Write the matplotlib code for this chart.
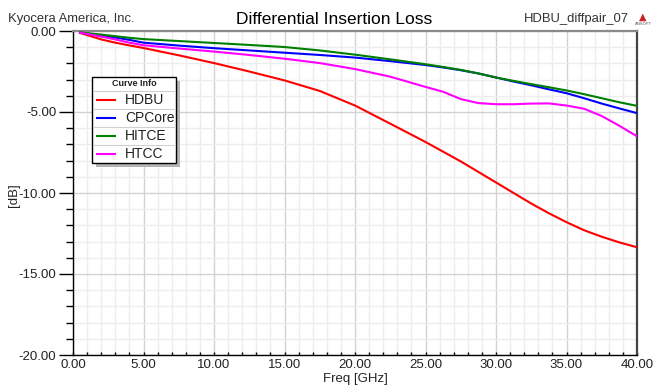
import matplotlib.pyplot as plt
from matplotlib.ticker import MultipleLocator, FormatStrFormatter
from matplotlib.patches import Rectangle

plt.rcParams['font.family'] = ['Liberation Sans', 'DejaVu Sans']

# ---- data ----
freq = [0.5, 1, 2, 3, 4, 5, 7.5, 10, 12.5, 15, 17.5, 20, 22.5, 25, 26.25,
        27.5, 28.75, 30, 31.25, 32.5, 33.75, 35, 36.25, 37.5, 38.75, 40]
hdbu = [-0.12, -0.25, -0.52, -0.72, -0.89, -1.05, -1.5, -1.98, -2.5, -3.05, -3.7,
        -4.6, -5.72, -6.85, -7.45, -8.05, -8.7, -9.35, -10.0, -10.65, -11.25,
        -11.8, -12.3, -12.7, -13.05, -13.35]
cpcore = [-0.1, -0.16, -0.28, -0.4, -0.55, -0.72, -0.9, -1.06, -1.2, -1.34, -1.48,
          -1.64, -1.86, -2.1, -2.25, -2.42, -2.62, -2.87, -3.12, -3.35, -3.6,
          -3.84, -4.15, -4.48, -4.78, -5.07]
hitce = [-0.08, -0.13, -0.22, -0.32, -0.42, -0.5, -0.62, -0.74, -0.86, -0.99, -1.2,
         -1.46, -1.75, -2.05, -2.22, -2.4, -2.62, -2.87, -3.08, -3.28, -3.47,
         -3.67, -3.9, -4.15, -4.4, -4.62]
htcc = [-0.1, -0.18, -0.35, -0.52, -0.72, -0.88, -1.08, -1.27, -1.48, -1.71, -1.98,
        -2.35, -2.82, -3.45, -3.75, -4.2, -4.45, -4.52, -4.52, -4.48, -4.47,
        -4.6, -4.8, -5.25, -5.85, -6.5]
names = ['HDBU', 'CPCore', 'HITCE', 'HTCC']
colors = ['#ff0000', '#0000ff', '#008000', '#ff00ff']

W, H = 654, 385
fig = plt.figure(figsize=(W / 100, H / 100), dpi=100)
ax = fig.add_axes([73 / W, 1 - 355 / H, (637 - 73) / W, (355 - 31) / H])

lines = []
for vals, name, c in zip([hdbu, cpcore, hitce, htcc], names, colors):
    ln, = ax.plot(freq, vals, color=c, lw=1.5, label=name, zorder=3)
    lines.append(ln)

ax.set_xlim(0, 40)
ax.set_ylim(-20, 0)
ax.xaxis.set_major_locator(MultipleLocator(5))
ax.xaxis.set_minor_locator(MultipleLocator(1))
ax.yaxis.set_major_locator(MultipleLocator(5))
ax.yaxis.set_minor_locator(MultipleLocator(1))
ax.xaxis.set_major_formatter(FormatStrFormatter('%.2f'))
ax.yaxis.set_major_formatter(FormatStrFormatter('%.2f'))
ax.grid(which='minor', color='#ededed', lw=1.0, zorder=0)
ax.grid(which='major', color='#d2d2d2', lw=1.0, zorder=0)
ax.set_axisbelow(True)

ax.tick_params(axis='y', which='major', direction='out', length=10, width=1,
               labelsize=9.5, pad=2, labelcolor='#222222')
ax.tick_params(axis='y', which='minor', direction='out', length=5, width=1)
ax.tick_params(axis='x', which='both', direction='in', length=2.5, width=1,
               labelsize=9.5, pad=3, labelcolor='#222222')

for s in ['left', 'bottom']:
    ax.spines[s].set_color('black')
    ax.spines[s].set_linewidth(1)
ax.spines['top'].set_color('#8a8a8a')
ax.spines['top'].set_linewidth(1.6)
ax.spines['right'].set_color('#444444')
ax.spines['right'].set_linewidth(1.6)

fig.text(334 / W, 1 - 20 / H, 'Differential Insertion Loss', ha='center',
         va='center', fontsize=12.5)
fig.text(8 / W, 1 - 19 / H, 'Kyocera America, Inc.', ha='left', va='center',
         fontsize=9.4, color='#333333')
fig.text(629 / W, 1 - 19 / H, 'HDBU_diffpair_07', ha='right', va='center',
         fontsize=9.4, color='#333333')
fig.text(643 / W, 1 - 17 / H, '\u25b2', ha='center', va='center', fontsize=7,
         color='#cc2222', family='DejaVu Sans')
fig.text(643 / W, 1 - 24 / H, 'ANSOFT', ha='center', va='center', fontsize=3,
         color='#555555')
fig.text(355 / W, 1 - 379 / H, 'Freq [GHz]', ha='center', va='center',
         fontsize=9.5, color='#222222')
fig.text(14 / W, 1 - 195 / H, '[dB]', ha='center', va='center', rotation=90,
         fontsize=9.5, color='#222222')

# ---- "Curve Info" legend box ----
lx0, lx1, ly0, ly1 = 92, 176, 77, 163
shadow = Rectangle((lx0 + 4, H - ly1 - 4), lx1 - lx0, ly1 - ly0,
                   transform=None, facecolor='#b4b4b4', edgecolor='none',
                   zorder=5)
box = Rectangle((lx0, H - ly1), lx1 - lx0, ly1 - ly0, transform=None,
                facecolor='white', edgecolor='black', lw=1, zorder=6)
fig.patches.extend([shadow, box])
fig.text((lx0 + lx1) / 2 / W, 1 - 84 / H, 'Curve Info', ha='center',
         va='center', fontsize=6.5, fontweight='bold', color='#222222',
         zorder=7)
row_top = 91
row_h = 18
for i, ln in enumerate(lines):
    y_sep = row_top + i * row_h
    fig.add_artist(plt.Line2D([(lx0 + 1) / W, (lx1 - 1) / W],
                              [1 - y_sep / H, 1 - y_sep / H],
                              color='#d0d0d0', lw=0.8, zorder=7))
    yc = 1 - (y_sep + row_h / 2) / H
    fig.add_artist(plt.Line2D([97 / W, 115 / W], [yc, yc],
                              color=ln.get_color(), lw=1.5, zorder=7))
    fig.text(125 / W, yc, ln.get_label(), ha='left', va='center',
             fontsize=10, color='#222222', zorder=7)

fig.savefig('out.png', dpi=100)
